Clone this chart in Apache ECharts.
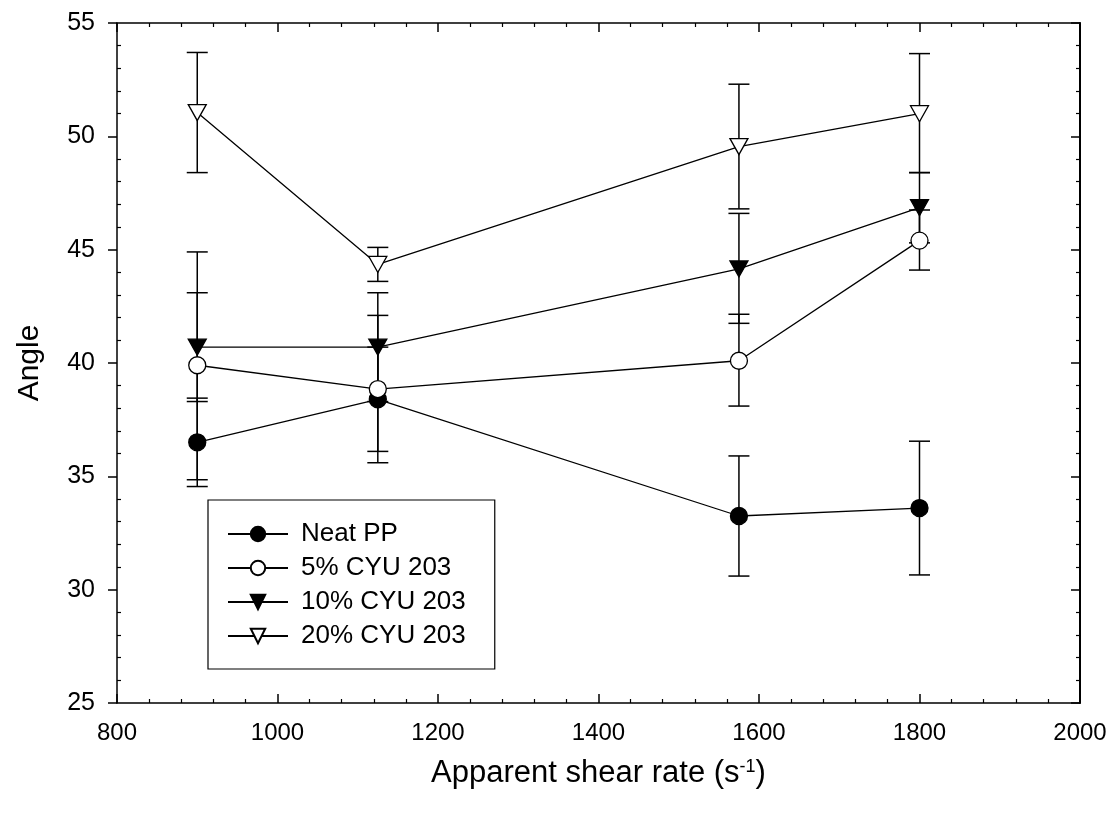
<!DOCTYPE html>
<html>
<head>
<meta charset="utf-8">
<title>Angle vs apparent shear rate</title>
<script src="https://cdn.jsdelivr.net/npm/echarts@6/dist/echarts.min.js"></script>
<style>
  html, body { margin: 0; padding: 0; background: #fff; }
  #chart { width: 1114px; height: 815px; }
</style>
</head>
<body>
<div id="chart"></div>
<script>
// x values (apparent shear rate, 1/s)
var shearRate = [900, 1125, 1575, 1800];

// mean angle and error bar ends
var neatPP     = [36.5, 38.4, 33.25, 33.6];
var neatPPLow  = [34.55, 36.1, 30.6, 30.65];
var neatPPHigh = [38.45, 40.7, 35.9, 36.55];

var cyu5     = [39.9, 38.85, 40.1, 45.4];
var cyu5Low  = [34.85, 35.6, 38.1, 44.1];
var cyu5High = [44.9, 42.1, 42.15, 46.75];

var cyu10     = [40.7, 40.7, 44.15, 46.85];
var cyu10Low  = [38.3, 38.3, 41.75, 45.3];
var cyu10High = [43.1, 43.1, 46.6, 48.4];

var cyu20     = [51.05, 44.35, 49.55, 51.0];
var cyu20Low  = [48.4, 43.6, 46.8, 48.4];
var cyu20High = [53.7, 45.1, 52.3, 53.65];

var xTicks = { min: 800, max: 2000, step: 200 };
var yTicks = { min: 25, max: 55, step: 5 };

var FONT = "'Liberation Sans', Arial, sans-serif";
var downTri = 'path://M0,0 L10,0 L5,8.7 Z';

function pairs(ys) {
    return shearRate.map(function (x, i) { return [x, ys[i]]; });
}
function bars(lo, hi) {
    return shearRate.map(function (x, i) { return [x, lo[i], hi[i]]; });
}

// vertical error bar with caps, positioned through the axes
function renderErrorBar(params, api) {
    var x = api.value(0);
    var lo = api.coord([x, api.value(1)]);
    var hi = api.coord([x, api.value(2)]);
    var half = 10.5;
    var st = { stroke: '#000', lineWidth: 1.5, fill: null };
    return {
        type: 'group',
        children: [
            { type: 'line', shape: { x1: lo[0], y1: lo[1], x2: hi[0], y2: hi[1] }, style: st },
            { type: 'line', shape: { x1: lo[0] - half, y1: lo[1], x2: lo[0] + half, y2: lo[1] }, style: st },
            { type: 'line', shape: { x1: hi[0] - half, y1: hi[1], x2: hi[0] + half, y2: hi[1] }, style: st }
        ]
    };
}

function errSeries(lo, hi) {
    return {
        type: 'custom',
        renderItem: renderErrorBar,
        data: bars(lo, hi),
        encode: { x: 0, y: [1, 2] },
        z: 1,
        silent: true
    };
}

function lineSeries(name, ys, symbol, filled) {
    return {
        name: name,
        type: 'line',
        data: pairs(ys),
        symbol: symbol,
        symbolSize: symbol === 'circle' ? 17 : [18, 16],
        showAllSymbol: true,
        lineStyle: { color: '#000', width: 1.3 },
        itemStyle: { color: filled ? '#000' : '#fff', borderColor: '#000', borderWidth: 1.3 },
        z: 3,
        animation: false
    };
}

var axisBlack = { color: '#000', width: 1.5 };
var minorBlack = { color: '#000', width: 1.2 };

var chart = echarts.init(document.getElementById('chart'));
chart.setOption({
    animation: false,
    backgroundColor: '#fff',
    grid: { left: 117, right: 34, top: 23, bottom: 112 },
    legend: {
        orient: 'vertical',
        left: 208,
        top: 500,
        data: ['Neat PP', '5% CYU 203', '10% CYU 203', '20% CYU 203'],
        itemWidth: 60,
        itemHeight: 18,
        itemGap: 8,
        padding: [21, 29, 20, 19],
        borderColor: '#000',
        borderWidth: 1.2,
        backgroundColor: '#fff',
        selectedMode: false,
        textStyle: { fontFamily: FONT, fontSize: 26, color: '#000', padding: [0, 0, 0, 8] }
    },
    xAxis: [{
        type: 'value',
        position: 'bottom',
        min: xTicks.min, max: xTicks.max, interval: xTicks.step,
        axisLine: { lineStyle: axisBlack },
        axisTick: { inside: true, length: 9, lineStyle: axisBlack },
        minorTick: { show: true, splitNumber: 5, length: 4, lineStyle: minorBlack },
        splitLine: { show: false },
        axisLabel: {
            fontFamily: FONT, fontSize: 24, color: '#000', margin: 18,
            formatter: function (v) { return String(v); }
        },
        name: 'Apparent shear rate (s{sup|-1})',
        nameLocation: 'middle',
        nameGap: 55,
        nameTextStyle: {
            fontFamily: FONT, fontSize: 31, color: '#000',
            rich: { sup: { fontFamily: FONT, fontSize: 18, color: '#000', verticalAlign: 'top' } }
        }
    }, {
        type: 'value',
        position: 'top',
        min: xTicks.min, max: xTicks.max, interval: xTicks.step,
        axisLine: { lineStyle: axisBlack },
        axisTick: { inside: true, length: 9, lineStyle: axisBlack },
        minorTick: { show: true, splitNumber: 5, length: 4, lineStyle: minorBlack },
        splitLine: { show: false },
        axisLabel: { show: false }
    }],
    yAxis: [{
        type: 'value',
        position: 'left',
        min: yTicks.min, max: yTicks.max, interval: yTicks.step,
        axisLine: { lineStyle: axisBlack },
        axisTick: { inside: false, length: 9, lineStyle: axisBlack },
        splitLine: { show: false },
        axisLabel: { fontFamily: FONT, fontSize: 25, color: '#000', margin: 22 },
        name: 'Angle',
        nameLocation: 'middle',
        nameGap: 72,
        nameTextStyle: { fontFamily: FONT, fontSize: 30, color: '#000' }
    }, {
        type: 'value',
        position: 'left',
        offset: 0,
        min: yTicks.min, max: yTicks.max, interval: yTicks.step,
        axisLine: { show: false },
        axisTick: { show: false, inside: true },
        minorTick: { show: true, splitNumber: 5, length: 4, lineStyle: minorBlack },
        splitLine: { show: false },
        axisLabel: { show: false }
    }, {
        type: 'value',
        position: 'right',
        min: yTicks.min, max: yTicks.max, interval: yTicks.step,
        axisLine: { lineStyle: { color: '#000', width: 2 } },
        axisTick: { inside: true, length: 9, lineStyle: axisBlack },
        minorTick: { show: true, splitNumber: 5, length: 4, lineStyle: minorBlack },
        splitLine: { show: false },
        axisLabel: { show: false }
    }],
    series: [
        errSeries(neatPPLow, neatPPHigh),
        errSeries(cyu5Low, cyu5High),
        errSeries(cyu10Low, cyu10High),
        errSeries(cyu20Low, cyu20High),
        lineSeries('Neat PP', neatPP, 'circle', true),
        lineSeries('5% CYU 203', cyu5, 'circle', false),
        lineSeries('10% CYU 203', cyu10, downTri, true),
        lineSeries('20% CYU 203', cyu20, downTri, false)
    ]
});
</script>
</body>
</html>
